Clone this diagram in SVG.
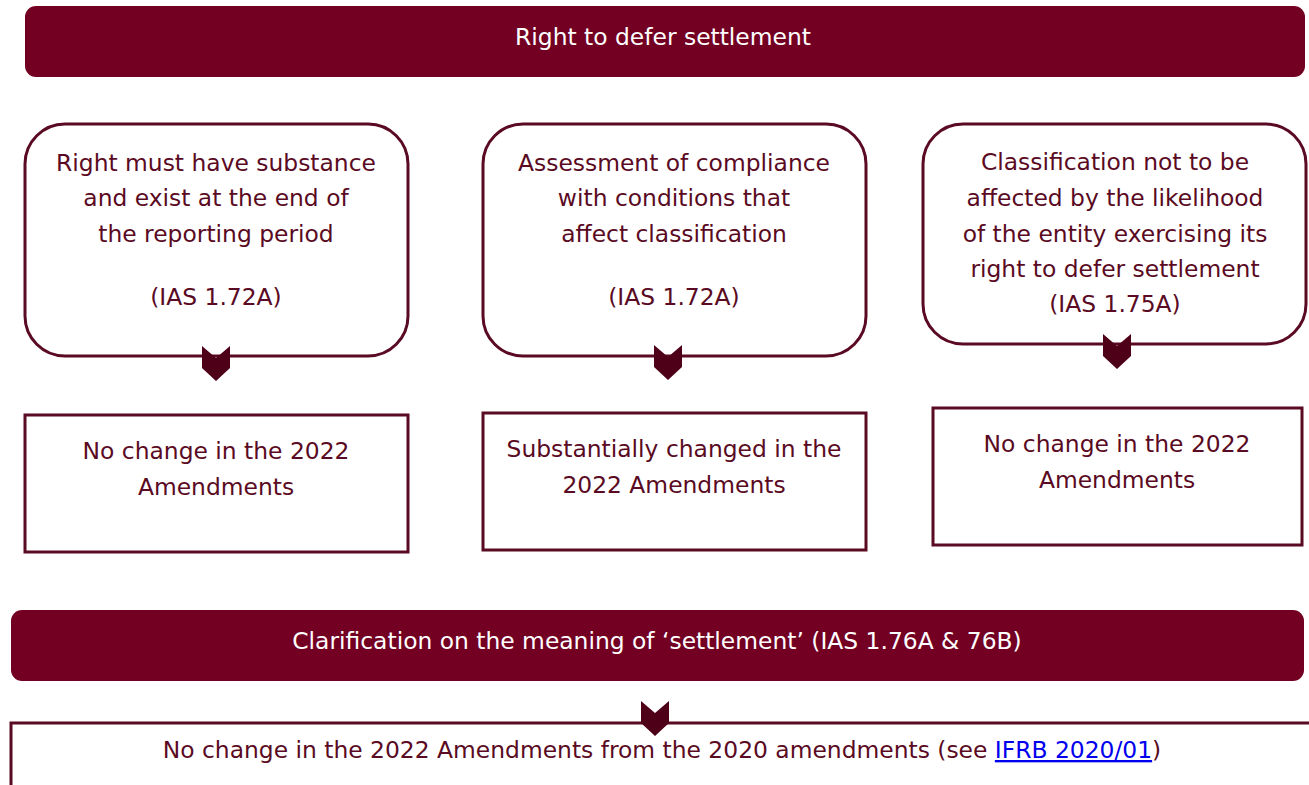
<svg xmlns="http://www.w3.org/2000/svg" width="1309" height="785" viewBox="0 0 1309 785">
<style>
.banner{fill:#730023;}
.box{fill:#ffffff;stroke:#5a0a22;stroke-width:3;}
.t{font-family:"DejaVu Sans","Liberation Sans",sans-serif;font-size:23.4px;fill:#5a0a22;text-anchor:middle;}
.tw{font-family:"DejaVu Sans","Liberation Sans",sans-serif;font-size:23.4px;fill:#ffffff;text-anchor:middle;}
.arrow{fill:#4f0019;}
.link{fill:#0000ee;text-decoration:underline;}
</style>
<defs>
<path id="chev" d="M-14,0 L0,12 L14,0 L14,22 L0,35 L-14,22 Z"/>
</defs>
<g id="banner-top">
<rect class="banner" x="25" y="6" width="1280" height="71" rx="11"/>
<text class="tw" x="663" y="45">Right to defer settlement</text>
</g>
<g id="node-right-substance">
<rect class="box" x="25" y="124" width="383" height="232" rx="40"/>
<text class="t" x="216" y="171">Right must have substance</text>
<text class="t" x="216" y="206">and exist at the end of</text>
<text class="t" x="216" y="242">the reporting period</text>
<text class="t" x="216" y="305">(IAS 1.72A)</text>
</g>
<g id="node-compliance">
<rect class="box" x="483" y="124" width="383" height="232" rx="40"/>
<text class="t" x="674" y="171">Assessment of compliance</text>
<text class="t" x="674" y="206">with conditions that</text>
<text class="t" x="674" y="242">affect classification</text>
<text class="t" x="674" y="305">(IAS 1.72A)</text>
</g>
<g id="node-likelihood">
<rect class="box" x="923" y="124" width="383" height="220" rx="40"/>
<text class="t" x="1115" y="170">Classification not to be</text>
<text class="t" x="1115" y="206">affected by the likelihood</text>
<text class="t" x="1115" y="242">of the entity exercising its</text>
<text class="t" x="1115" y="277">right to defer settlement</text>
<text class="t" x="1115" y="312">(IAS 1.75A)</text>
</g>
<g id="node-nochange-1">
<rect class="box" x="25" y="415" width="383" height="137"/>
<text class="t" x="216" y="459">No change in the 2022</text>
<text class="t" x="216" y="495">Amendments</text>
</g>
<g id="node-changed-2">
<rect class="box" x="483" y="413" width="383" height="137"/>
<text class="t" x="674" y="457">Substantially changed in the</text>
<text class="t" x="674" y="493">2022 Amendments</text>
</g>
<g id="node-nochange-3">
<rect class="box" x="933" y="408" width="369" height="137"/>
<text class="t" x="1117" y="452">No change in the 2022</text>
<text class="t" x="1117" y="488">Amendments</text>
</g>
<g id="banner-bottom">
<rect class="banner" x="11" y="610" width="1293" height="71" rx="11"/>
<text class="tw" x="657" y="649">Clarification on the meaning of ‘settlement’ (IAS 1.76A &amp; 76B)</text>
</g>
<g id="node-final">
<rect class="box" x="11" y="723" width="1310" height="80"/>
<text class="t" x="662" y="758">No change in the 2022 Amendments from the 2020 amendments (see <tspan class="link">IFRB 2020/01</tspan>)</text>
</g>
<g id="connectors">
<use href="#chev" class="arrow" x="216" y="346"/>
<use href="#chev" class="arrow" x="668" y="345"/>
<use href="#chev" class="arrow" x="1117" y="334"/>
<use href="#chev" class="arrow" x="655" y="701"/>
</g>
</svg>
